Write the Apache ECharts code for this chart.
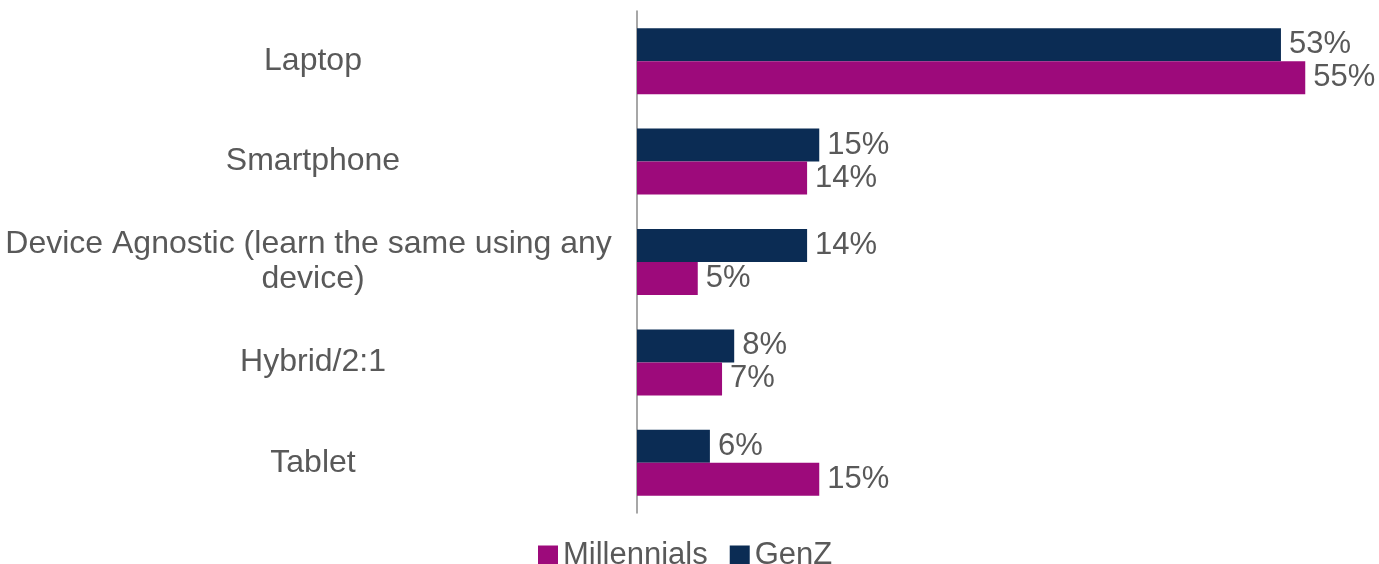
<!DOCTYPE html>
<html>
<head>
<meta charset="utf-8">
<script src="https://cdn.jsdelivr.net/npm/echarts@6/dist/echarts.min.js"></script>
<style>
  html, body { margin: 0; padding: 0; background: #ffffff; }
  #chart { width: 1379px; height: 564px; }
</style>
</head>
<body>
<div id="chart"></div>
<script>
// Preferred learning device, share of respondents (%)
const categories = ['Laptop', 'Smartphone', 'Device Agnostic (learn the same using any device)', 'Hybrid/2:1', 'Tablet'];
const genZ = [53, 15, 14, 8, 6];
const millennials = [55, 14, 5, 7, 15];

const NAVY = '#0b2c54';
const MAGENTA = '#9d0a7b';
const TEXT = '#595959';
const FONT = '"Liberation Sans", Arial, sans-serif';

const chart = echarts.init(document.getElementById('chart'), null, { renderer: 'canvas' });

const valueLabel = {
  show: true,
  position: 'right',
  distance: 8,
  formatter: p => p.value + '%',
  color: TEXT,
  fontFamily: FONT,
  fontSize: 31
};

chart.setOption({
  animation: false,
  backgroundColor: '#ffffff',
  grid: {
    left: 637, top: 11, width: 729, height: 502,
    containLabel: false,
    outerBoundsMode: 'none'
  },
  xAxis: {
    type: 'value',
    min: 0,
    max: 60,
    show: false
  },
  yAxis: {
    type: 'category',
    data: categories,
    inverse: true,
    axisLine: { show: true, lineStyle: { color: '#8a8a8a', width: 1.5 } },
    axisTick: { show: false },
    splitLine: { show: false },
    axisLabel: {
      margin: 324,
      align: 'center',
      width: 624,
      overflow: 'break',
      lineHeight: 35,
      color: TEXT,
      fontFamily: FONT,
      fontSize: 32
    }
  },
  legend: {
    data: ['Millennials', 'GenZ'],
    left: 533,
    top: 535,
    icon: 'rect',
    itemWidth: 20,
    itemHeight: 20,
    itemGap: 22,
    textStyle: { color: TEXT, fontFamily: FONT, fontSize: 31 }
  },
  series: [
    {
      name: 'GenZ',
      type: 'bar',
      data: genZ,
      barWidth: 33,
      barGap: '0%',
      itemStyle: { color: NAVY },
      label: valueLabel
    },
    {
      name: 'Millennials',
      type: 'bar',
      data: millennials,
      barWidth: 33,
      barGap: '0%',
      itemStyle: { color: MAGENTA },
      label: valueLabel
    }
  ]
});
</script>
</body>
</html>
